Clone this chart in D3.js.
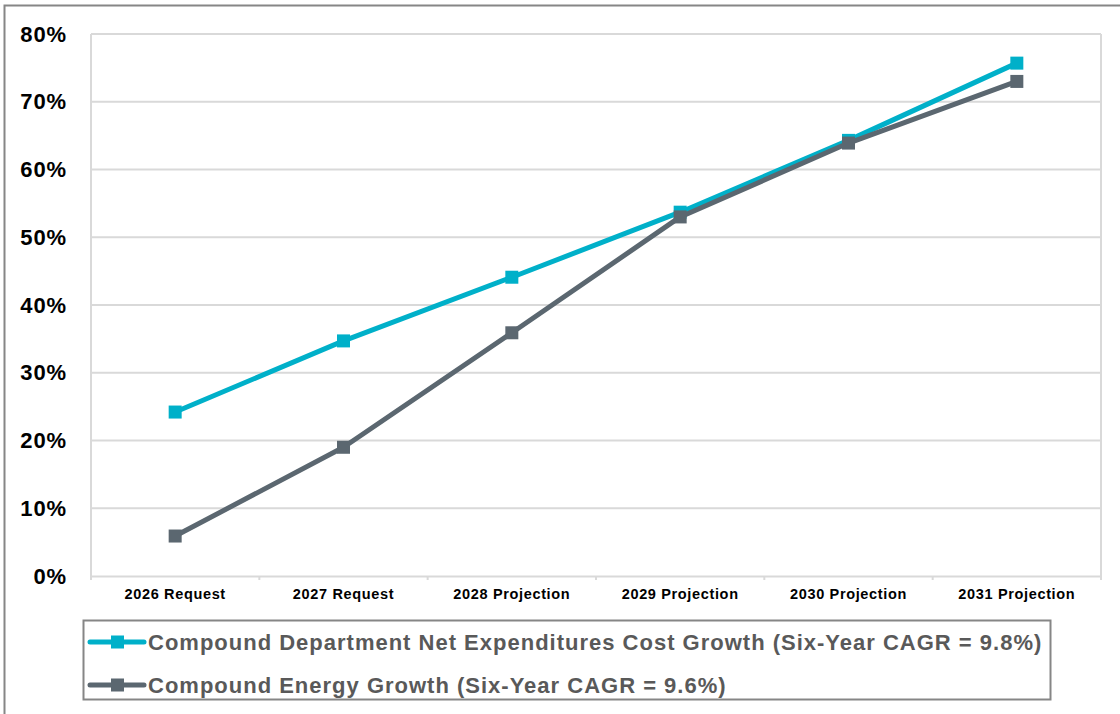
<!DOCTYPE html>
<html>
<head>
<meta charset="utf-8">
<script src="https://cdn.jsdelivr.net/npm/d3@7/dist/d3.min.js"></script>
<style>
  html, body { margin: 0; padding: 0; background: #fff; }
  svg { display: block; font-family: "Liberation Sans", Arial, sans-serif; }
</style>
</head>
<body>
<svg id="chart" width="1120" height="714"></svg>
<script>
// Categories along the x axis
const categories = ["2026 Request", "2027 Request", "2028 Projection", "2029 Projection", "2030 Projection", "2031 Projection"];
// Cumulative growth, percent
const deptCostGrowth = [24.2, 34.7, 44.1, 53.7, 64.3, 75.7];
const energyGrowth = [5.9, 19.0, 35.9, 53.0, 63.9, 73.0];
// Y axis ticks
const yTicks = [0, 10, 20, 30, 40, 50, 60, 70, 80];
// Legend entries
const seriesNames = [
  "Compound Department Net Expenditures Cost Growth (Six-Year CAGR = 9.8%)",
  "Compound Energy Growth (Six-Year CAGR = 9.6%)"
];
const seriesColors = ["#00B0C9", "#5B6770"];

const svg = d3.select("#chart");
const plot = { left: 91, top: 34, right: 1101, bottom: 576 };

// outer frame (only top and left edges fall inside the view)
svg.append("rect")
  .attr("x", 4.5).attr("y", 5.5)
  .attr("width", 1130).attr("height", 720)
  .attr("fill", "none").attr("stroke", "#868686").attr("stroke-width", 2);

const x = d3.scaleBand().domain(categories).range([plot.left, plot.right]);
const y = d3.scaleLinear().domain([0, 80]).range([plot.bottom, plot.top]);

// gridlines
svg.append("g").selectAll("line")
  .data(yTicks.filter(d => d > 0))
  .join("line")
  .attr("x1", plot.left).attr("x2", plot.right)
  .attr("y1", d => y(d)).attr("y2", d => y(d))
  .attr("stroke", "#D9D9D9").attr("stroke-width", 2);

// plot area sides
svg.append("line").attr("x1", plot.left).attr("x2", plot.left)
  .attr("y1", plot.top).attr("y2", plot.bottom)
  .attr("stroke", "#D9D9D9").attr("stroke-width", 2);
svg.append("line").attr("x1", plot.right).attr("x2", plot.right)
  .attr("y1", plot.top).attr("y2", plot.bottom)
  .attr("stroke", "#D9D9D9").attr("stroke-width", 2);

// y axis labels
const yAxis = d3.axisLeft(y).tickValues(yTicks).tickFormat(d => d + "%").tickSize(0).tickPadding(24);
const gy = svg.append("g").attr("transform", `translate(${plot.left},0)`).call(yAxis);
gy.select(".domain").remove();
gy.selectAll("text")
  .attr("font-size", 22).attr("font-weight", "bold").attr("fill", "#000")
  .attr("letter-spacing", 0.9)
  .attr("font-family", "'Liberation Sans', Arial, sans-serif");

// x axis
const xAxis = d3.axisBottom(x).tickSize(0).tickPadding(13);
const gx = svg.append("g").attr("transform", `translate(0,${plot.bottom})`).call(xAxis);
gx.select(".domain").attr("stroke", "#D9D9D9").attr("stroke-width", 2);
gx.selectAll("text")
  .attr("font-size", 14.5).attr("font-weight", "bold").attr("fill", "#000")
  .attr("letter-spacing", 0.65)
  .attr("font-family", "'Liberation Sans', Arial, sans-serif");
// small ticks between categories
const boundaries = categories.map(c => x(c)).concat([plot.right]);
svg.append("g").selectAll("line")
  .data(boundaries)
  .join("line")
  .attr("x1", d => d).attr("x2", d => d)
  .attr("y1", plot.bottom).attr("y2", plot.bottom + 4)
  .attr("stroke", "#D9D9D9").attr("stroke-width", 2);

// series lines and markers
const cx = c => x(c) + x.bandwidth() / 2;
const line = d3.line().x(d => cx(d.c)).y(d => y(d.v));
[deptCostGrowth, energyGrowth].forEach((vals, i) => {
  const pts = categories.map((c, j) => ({ c, v: vals[j] }));
  const g = svg.append("g");
  g.append("path").datum(pts)
    .attr("d", line).attr("fill", "none")
    .attr("stroke", seriesColors[i]).attr("stroke-width", 5)
    .attr("stroke-linejoin", "round");
  g.selectAll("rect").data(pts).join("rect")
    .attr("x", d => cx(d.c) - 6.5).attr("y", d => y(d.v) - 6.5)
    .attr("width", 13).attr("height", 13)
    .attr("fill", seriesColors[i]);
});

// legend
const lg = svg.append("g");
lg.append("rect")
  .attr("x", 83.5).attr("y", 620.5).attr("width", 967).attr("height", 79)
  .attr("fill", "#fff").attr("stroke", "#868686").attr("stroke-width", 2);
seriesNames.forEach((name, i) => {
  const yy = 642 + i * 43;
  lg.append("line").attr("x1", 90).attr("x2", 144).attr("y1", yy).attr("y2", yy)
    .attr("stroke", seriesColors[i]).attr("stroke-width", 5).attr("stroke-linecap", "round");
  lg.append("rect").attr("x", 111).attr("y", yy - 6.5).attr("width", 13).attr("height", 13)
    .attr("fill", seriesColors[i]);
  lg.append("text").attr("x", 148).attr("y", yy + 7.5)
    .attr("font-size", 22).attr("font-weight", "bold").attr("fill", "#595959")
    .attr("letter-spacing", 1)
    .text(name);
});
</script>
</body>
</html>
